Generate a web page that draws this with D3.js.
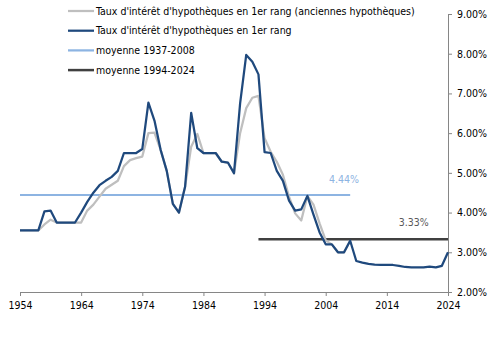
<!DOCTYPE html>
<html><head><meta charset="utf-8">
<script src="https://cdn.jsdelivr.net/npm/d3@7"></script>
<style>body{margin:0;background:#fff}svg{display:block}</style>
</head><body>
<svg id="c" width="492" height="341"></svg>
<script>
const years = d3.range(1954, 2025);
const blueRates = [3.55,3.55,3.55,3.55,4.03,4.05,3.75,3.75,3.75,3.75,4.0,4.27,4.5,4.69,4.8,4.9,5.05,5.5,5.5,5.5,5.6,6.77,6.31,5.58,5.05,4.22,4.0,4.65,6.51,5.62,5.5,5.5,5.5,5.28,5.26,4.99,6.75,7.97,7.8,7.48,5.52,5.5,5.05,4.8,4.3,4.05,4.08,4.42,3.95,3.5,3.2,3.2,3.0,3.0,3.29,2.78,2.74,2.71,2.69,2.68,2.68,2.68,2.66,2.63,2.62,2.62,2.62,2.64,2.62,2.66,3.0];
const grayYears = d3.range(1954, 2009);
const grayRates = [3.55,3.55,3.55,3.55,3.7,3.82,3.75,3.75,3.75,3.75,3.75,4.05,4.2,4.4,4.6,4.7,4.8,5.17,5.32,5.37,5.41,6.0,6.01,5.58,5.05,4.22,4.0,4.65,5.66,5.98,5.5,5.5,5.5,5.28,5.26,4.99,6.0,6.63,6.89,6.94,5.87,5.53,5.28,4.95,4.4,3.98,3.8,4.42,4.2,3.73,3.3,3.2,3.0,3.0,3.29];
const avgLong = {label:"moyenne 1937-2008", from:1954, to:2008, value:4.44};
const avgRecent = {label:"moyenne 1994-2024", from:1993, to:2024, value:3.33};
const xTicks = [1954,1964,1974,1984,1994,2004,2014,2024];
const yTicks = [2,3,4,5,6,7,8,9];
const legendLabels = ["Taux d'intérêt d'hypothèques en 1er rang (anciennes hypothèques)","Taux d'intérêt d'hypothèques en 1er rang","moyenne 1937-2008","moyenne 1994-2024"];

const C = {gray:"#bfbfbf", blue:"#1f497d", light:"#8db4e2", dark:"#404040", axis:"#868686", text:"#000"};
const FONT = "'DejaVu Sans Condensed','DejaVu Sans',sans-serif";
const svg = d3.select("#c");
const x = d3.scaleLinear().domain([1954,2024]).range([20,448]);
const y = d3.scaleLinear().domain([2,9]).range([292,14]);

// axes
const xa = svg.append("g").attr("transform","translate(0,292)")
  .call(d3.axisBottom(x).tickValues(xTicks).tickFormat(d3.format("d")).tickSize(4).tickSizeOuter(0));
const ya = svg.append("g").attr("transform","translate(448,0)")
  .call(d3.axisRight(y).tickValues(yTicks).tickFormat(d=>d.toFixed(2)+"%").tickSize(4).tickSizeOuter(0));
[xa,ya].forEach(a=>{
  a.select(".domain").attr("stroke",C.axis).attr("stroke-width",1);
  a.selectAll(".tick line").attr("stroke",C.axis);
  a.selectAll("text").attr("fill",C.text).style("font-family",FONT).style("font-size","10.5px");
});
xa.selectAll("text").attr("dy","0.71em").attr("y",10);
ya.selectAll("text").attr("x",9);

const line = d3.line().x(d=>x(d[0])).y(d=>y(d[1]));
// average lines
svg.append("path").attr("d",line([[avgLong.from,avgLong.value],[avgLong.to,avgLong.value]]))
  .attr("fill","none").attr("stroke",C.light).attr("stroke-width",2);
svg.append("path").attr("d",line([[avgRecent.from,avgRecent.value],[avgRecent.to,avgRecent.value]]))
  .attr("fill","none").attr("stroke",C.dark).attr("stroke-width",2.5);
// series
svg.append("path").attr("d",line(grayYears.map((yr,i)=>[yr,grayRates[i]])))
  .attr("fill","none").attr("stroke",C.gray).attr("stroke-width",2.25).attr("stroke-linejoin","round");
svg.append("path").attr("d",line(years.map((yr,i)=>[yr,blueRates[i]])))
  .attr("fill","none").attr("stroke",C.blue).attr("stroke-width",2.25).attr("stroke-linejoin","round");

// value labels
svg.append("text").attr("x",x(2007)).attr("y",y(avgLong.value)-12).attr("text-anchor","middle")
  .attr("fill",C.light).style("font-family",FONT).style("font-size","10.5px").text(d3.format(".2f")(avgLong.value)+"%");
svg.append("text").attr("x",x(2018.4)).attr("y",y(avgRecent.value)-13).attr("text-anchor","middle")
  .attr("fill","#595959").style("font-family",FONT).style("font-size","10.5px").text(d3.format(".2f")(avgRecent.value)+"%");

// legend
const lcol = [C.gray,C.blue,C.light,C.dark];
const lg = svg.append("g");
legendLabels.forEach((t,i)=>{
  const yy = 11 + i*19.7;
  lg.append("line").attr("x1",68).attr("x2",94).attr("y1",yy).attr("y2",yy)
    .attr("stroke",lcol[i]).attr("stroke-width",i==3?2.5:2.25);
  lg.append("text").attr("x",96).attr("y",yy).attr("dy","0.35em").attr("fill",C.text)
    .style("font-family",FONT).style("font-size","10.5px").text(t);
});
</script>
</body></html>
